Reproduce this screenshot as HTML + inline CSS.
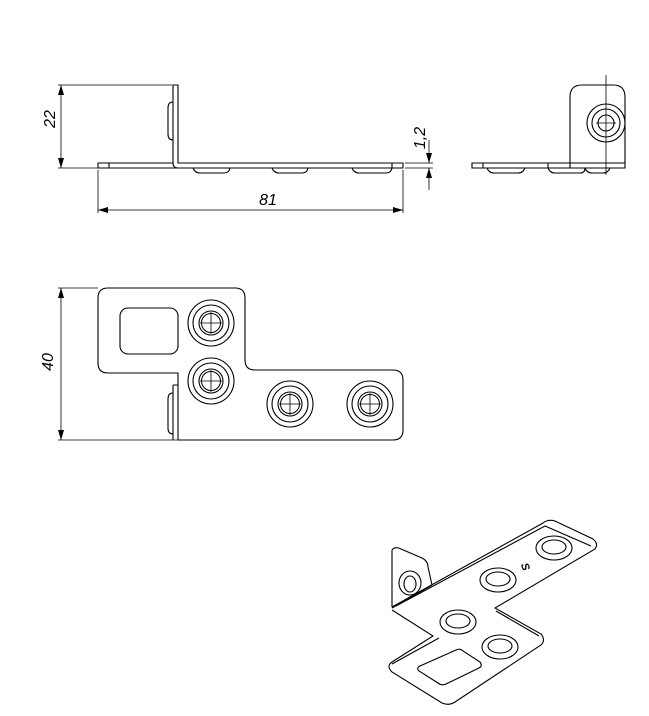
<!DOCTYPE html>
<html><head><meta charset="utf-8"><style>html,body{margin:0;padding:0;background:#fff}svg{display:block}</style></head>
<body>
<svg width="649" height="716" viewBox="0 0 649 716" xmlns="http://www.w3.org/2000/svg" font-family="Liberation Sans, sans-serif">
<defs>
<marker id="a" viewBox="0 0 10 6" refX="10" refY="3" markerWidth="10" markerHeight="6" orient="auto-start-reverse" markerUnits="userSpaceOnUse"><path d="M0,0 L10,3 L0,6 Z" fill="#000"/></marker>
<g id="h">
<circle r="23" fill="none" stroke="#000" stroke-width="1.1"/>
<circle r="18" fill="none" stroke="#000" stroke-width="1.1"/>
<circle r="12" fill="none" stroke="#000" stroke-width="1.1"/>
<circle r="9.5" fill="none" stroke="#000" stroke-width="1"/>
<path d="M-11,0H11M0,-11V11" stroke="#000" stroke-width="0.8"/>
</g>
</defs>
<use href="#h" x="211" y="323"/>
<use href="#h" x="211" y="381"/>
<use href="#h" x="290" y="404"/>
<use href="#h" x="370" y="404"/>
<g fill="none" stroke="#000" stroke-width="1.1">
<!-- front view -->
<path d="M98,163 H173 V85 H178 V163 H403 V168 H98 Z"/>
<path d="M109,163 V168 M392,163 V168"/>
<path d="M173,163 Q173,168 178,168"/>
<path d="M173,102 Q168,102 168,108 V134 Q168,140 173,140"/>
<path d="M193,168 Q195,173 200,173 H224 Q229,173 230,168"/>
<path d="M272,168 Q274,173 279,173 H302 Q307,173 308,168"/>
<path d="M352,168 Q354,173 359,173 H386 Q391,173 392,168"/>
<g stroke-width="0.8">
<path d="M58,85 H172 M58,168 H98"/>
<path d="M61,85 V168" marker-start="url(#a)" marker-end="url(#a)"/>
<path d="M98,170 V213 M403,170 V213"/>
<path d="M98,210 H403" marker-start="url(#a)" marker-end="url(#a)"/>
<path d="M405,163 H433 M405,168 H433"/>
<path d="M429,140 V163" marker-end="url(#a)"/>
<path d="M429,190 V168" marker-end="url(#a)"/>
</g>
<!-- side view -->
<path d="M472,163 H625 V168 H472 Z"/>
<path d="M483,163 V168 M548,163 V168 M570,163 V168"/>
<path d="M570,163 V97 Q570,85 582,85 H613 Q625,85 625,97 V163"/>
<circle cx="606" cy="123" r="19"/><circle cx="606" cy="123" r="14"/><circle cx="606" cy="123" r="8"/>
<path d="M606,75 V175 M596,123 H616" stroke-width="0.8"/>
<path d="M487,168 Q489,173 494,173 H518 Q523,173 525,168"/>
<path d="M548,168 Q550,173 555,173 H580 Q585,173 585,168"/>
<path d="M585,168 Q587,173 592,173 H603 Q608,173 610,168"/>
<!-- top view -->
<path d="M108,288 H235 Q245,288 245,298 V360 Q245,370 255,370 H393 Q403,370 403,380 V430 Q403,440 393,440 H178 V373 H108 Q98,373 98,363 V298 Q98,288 108,288 Z"/>
<rect x="120" y="308" width="58" height="46" rx="8"/>
<path d="M173,385 V440 M178,385 H173"/>
<path d="M173,393 Q168,393 168,399 V428 Q168,434 173,434"/>
<g stroke-width="0.8">
<path d="M58,288 H98 M58,440 H178"/>
<path d="M61,288 V440" marker-start="url(#a)" marker-end="url(#a)"/>
</g>
<!-- iso -->
<path d="M392,607 L543,523 Q548,519 555,521 L593,539 Q599,544 595,549 L495,608 L541,634 Q546,640 541,645 L455,702 Q449,706 442,703 L392,672 Q386,666 392,662 L433,636 L392,610"/>
<path d="M396,606 L545,526 L591,546 M392,664 L439,638 M496,611 L539,636"/>
<path d="M392,550 L392,607 M392,550 Q395,546 401,549 L422,558 Q428,561 428,567 L432,585 M392,608 L432,585"/>
<ellipse cx="410" cy="583" rx="11" ry="12"/><ellipse cx="410" cy="584" rx="6" ry="8"/>
<ellipse cx="498" cy="580" rx="18" ry="12"/><ellipse cx="498" cy="579" rx="12" ry="7"/>
<ellipse cx="554" cy="548" rx="18" ry="12"/><ellipse cx="554" cy="547" rx="12" ry="7"/>
<ellipse cx="458" cy="622" rx="18" ry="12"/><ellipse cx="458" cy="621" rx="12" ry="7"/>
<ellipse cx="500" cy="647" rx="18" ry="12"/><ellipse cx="500" cy="646" rx="12" ry="7"/>
<path d="M420,666 L456,650 Q460,648 463,651 L480,662 Q483,666 479,668 L446,684 Q442,686 438,683 L419,671 Q416,668 420,666 Z"/>
</g>
<g font-style="italic" font-size="16" fill="#000">
<text x="268" y="205" text-anchor="middle">81</text>
<text transform="translate(55,119) rotate(-90)" text-anchor="middle">22</text>
<text transform="translate(53,362) rotate(-90)" text-anchor="middle">40</text>
<text transform="translate(425,138) rotate(-90)" text-anchor="middle">1,2</text>
<text transform="translate(522,568) rotate(70)" text-anchor="middle" font-size="11" font-weight="bold">S</text>
</g>
</svg>
</body></html>
